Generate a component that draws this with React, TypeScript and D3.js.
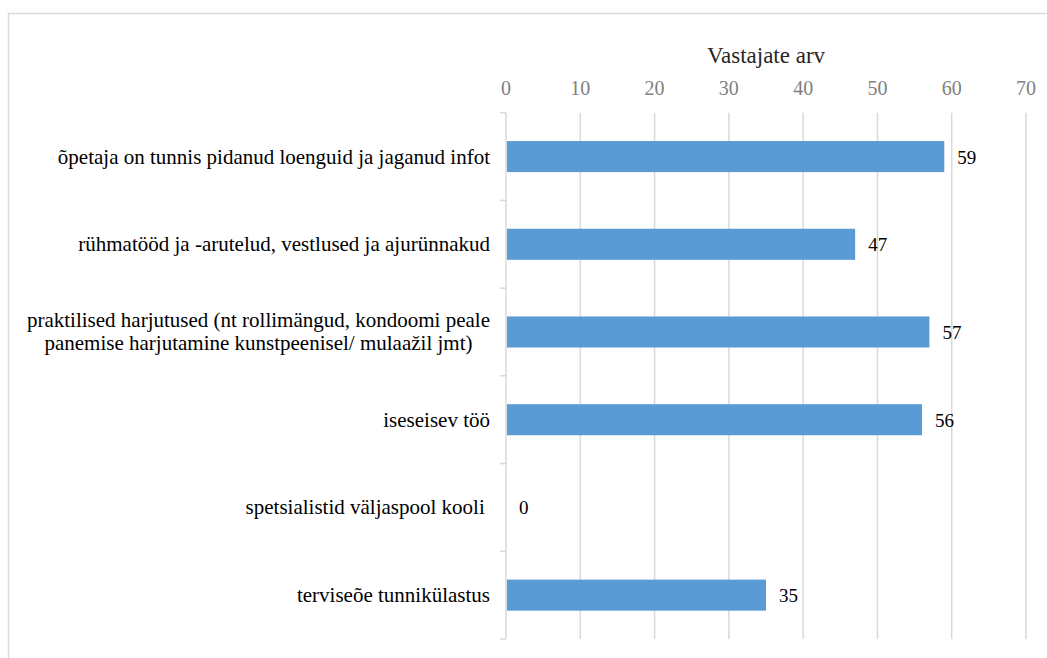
import * as d3 from 'd3';
import { useEffect, useRef } from 'react';

const categories = [
    ['õpetaja on tunnis pidanud loenguid ja jaganud infot'],
    ['rühmatööd ja -arutelud, vestlused ja ajurünnakud'],
    ['praktilised harjutused (nt rollimängud, kondoomi peale', 'panemise harjutamine kunstpeenisel/ mulaažil jmt)'],
    ['iseseisev töö'],
    ['spetsialistid väljaspool kooli '],
    ['terviseõe tunnikülastus'],
];
const values = [59, 47, 57, 56, 0, 35];
const xTicks = [0, 10, 20, 30, 40, 50, 60, 70];
const axisTitle = 'Vastajate arv';

const FONT = "'Liberation Serif', 'Times New Roman', serif";

export default function App() {
    const svgRef = useRef<SVGSVGElement | null>(null);

    useEffect(() => {
        if (!svgRef.current) return;
        const width = 1047;
        const height = 658;
        const plot = { left: 506, right: 1026, top: 112.7, bottom: 639 };

        const svg = d3.select(svgRef.current);
        svg.selectAll('*').remove();

        // outer chart border (runs off the right and bottom edges)
        svg.append('rect')
            .attr('x', 8.5).attr('y', 13.5)
            .attr('width', width + 20).attr('height', height + 20)
            .attr('fill', 'white')
            .attr('stroke', '#d9d9d9')
            .attr('stroke-width', 1.5);

        const x = d3.scaleLinear().domain([0, 70]).range([plot.left, plot.right]);
        const y = d3.scaleBand<number>()
            .domain(d3.range(categories.length))
            .range([plot.top, plot.bottom])
            .paddingInner(0.646)
            .paddingOuter(0.323);
        const band = (plot.bottom - plot.top) / categories.length;
        const bandStart = (i: number) => plot.top + i * band;

        // gridlines
        svg.append('g')
            .selectAll('line')
            .data(xTicks.slice(1))
            .join('line')
            .attr('x1', d => x(d)).attr('x2', d => x(d))
            .attr('y1', plot.top).attr('y2', plot.bottom)
            .attr('stroke', '#d9d9d9')
            .attr('stroke-width', 1.5);

        // top axis labels
        svg.append('g')
            .selectAll('text')
            .data(xTicks)
            .join('text')
            .attr('x', d => x(d))
            .attr('y', 95)
            .attr('text-anchor', 'middle')
            .style('font-family', FONT)
            .style('font-size', '20px')
            .attr('fill', '#808080')
            .text(d => d);

        svg.append('text')
            .attr('x', (plot.left + plot.right) / 2)
            .attr('y', 63)
            .attr('text-anchor', 'middle')
            .style('font-family', FONT)
            .style('font-size', '23px')
            .attr('fill', '#262626')
            .text(axisTitle);

        // category axis line and ticks
        svg.append('line')
            .attr('x1', plot.left).attr('x2', plot.left)
            .attr('y1', plot.top).attr('y2', plot.bottom)
            .attr('stroke', '#d9d9d9').attr('stroke-width', 1.5);
        svg.append('g')
            .selectAll('line')
            .data(d3.range(categories.length + 1))
            .join('line')
            .attr('x1', plot.left - 6).attr('x2', plot.left)
            .attr('y1', d => bandStart(d)).attr('y2', d => bandStart(d))
            .attr('stroke', '#d9d9d9').attr('stroke-width', 1.5);

        // bars
        svg.append('g')
            .selectAll('rect')
            .data(values)
            .join('rect')
            .attr('x', x(0) + 1)
            .attr('y', (_, i) => y(i)!)
            .attr('width', d => Math.max(0, x(d) - x(0) - 1))
            .attr('height', y.bandwidth())
            .attr('fill', '#5b9bd5');

        // value labels
        svg.append('g')
            .selectAll('text')
            .data(values)
            .join('text')
            .attr('x', d => x(d) + 13)
            .attr('y', (_, i) => y(i)! + y.bandwidth() / 2 + 7)
            .style('font-family', FONT)
            .style('font-size', '19px')
            .attr('fill', '#000')
            .text(d => d);

        // category labels
        const labelRight = 490;
        const lineH = 23;
        categories.forEach((lines, i) => {
            const cy = bandStart(i) + band / 2;
            const g = svg.append('g');
            const texts = g.selectAll('text')
                .data(lines)
                .join('text')
                .attr('y', (_, j) => cy + 7 + (j - (lines.length - 1) / 2) * lineH)
                .style('font-family', FONT)
                .style('font-size', '21px')
                .attr('fill', '#000')
                .style('white-space', 'pre')
                .text(d => d);
            if (lines.length === 1) {
                texts.attr('x', labelRight).attr('text-anchor', 'end');
            } else {
                const widest = d3.max(texts.nodes(), n => (n as SVGTextElement).getComputedTextLength()) ?? 0;
                texts.attr('x', labelRight - widest / 2).attr('text-anchor', 'middle');
            }
        });
    }, []);

    return (
        <svg
            ref={svgRef}
            width={1047}
            height={658}
            style={{ position: 'absolute', left: 0, top: 0, background: 'white' }}
        />
    );
}
